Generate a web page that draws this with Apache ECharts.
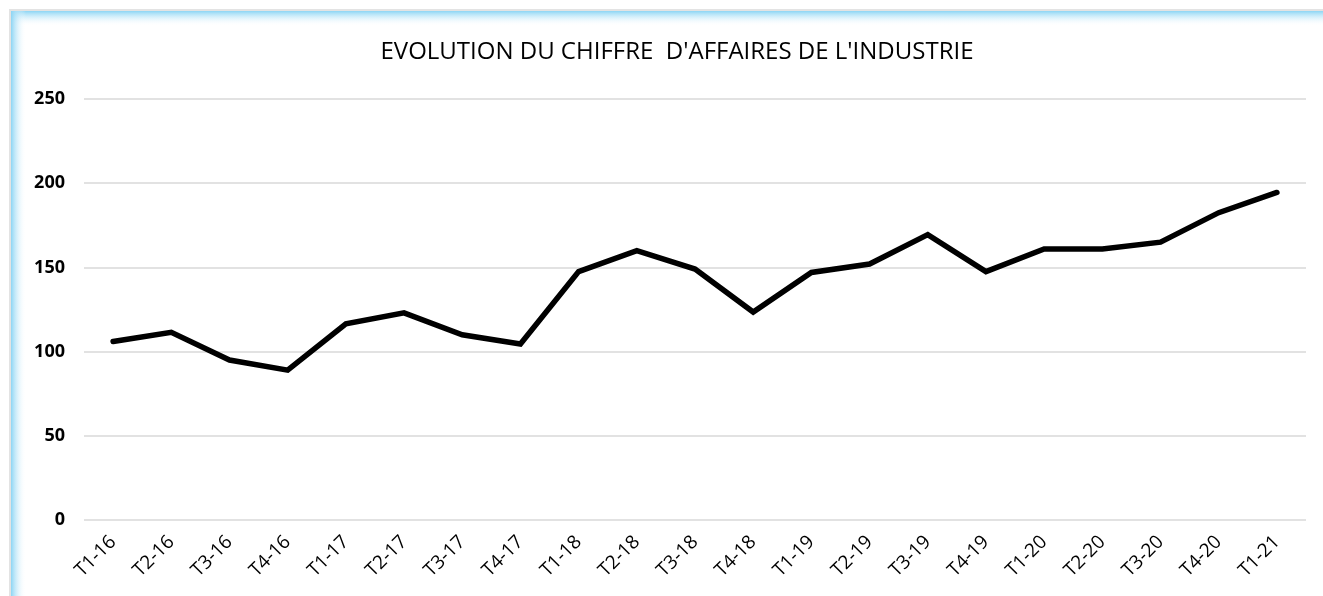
<!DOCTYPE html>
<html>
<head>
<meta charset="utf-8">
<script src="https://cdn.jsdelivr.net/npm/echarts@6/dist/echarts.min.js"></script>
<style>
  html, body { margin: 0; padding: 0; background: #fff; }
  #chart { width: 1323px; height: 596px; }
</style>
</head>
<body>
<div id="chart"></div>
<script>
// trimestres
const categories = ['T1-16', 'T2-16', 'T3-16', 'T4-16', 'T1-17', 'T2-17', 'T3-17', 'T4-17',
  'T1-18', 'T2-18', 'T3-18', 'T4-18', 'T1-19', 'T2-19', 'T3-19', 'T4-19',
  'T1-20', 'T2-20', 'T3-20', 'T4-20', 'T1-21'];
// chiffre d'affaires
const valeurs = [106, 111.5, 95, 89, 116.5, 123, 110, 104.5,
  147.5, 160, 149, 123.5, 147, 152, 169.5, 147.5,
  161, 161, 165, 182.5, 194.5];
const yTicks = { min: 0, max: 250, interval: 50 };

const font = 'Open Sans';

let options = {
  animation: false,
  backgroundColor: '#fff',
  title: {
    text: "EVOLUTION DU CHIFFRE  D'AFFAIRES DE L'INDUSTRIE",
    left: 672,
    top: 35,
    textAlign: 'center',
    textStyle: {
      fontFamily: font,
      fontSize: 24,
      fontWeight: 'normal',
      color: '#000'
    }
  },
  graphic: [
    // cadre du graphique (bordure bleutée)
    { type: 'rect', shape: { x: 9, y: 9, width: 1323, height: 2 }, style: { fill: '#e3e3e3' }, silent: true },
    { type: 'rect', shape: { x: 9, y: 9, width: 2, height: 600 }, style: { fill: '#e3e3e3' }, silent: true },
    {
      type: 'rect', shape: { x: 11, y: 11, width: 1323, height: 15 }, silent: true,
      style: { fill: new echarts.graphic.LinearGradient(0, 0, 0, 1, [
        { offset: 0, color: '#8dd5f4' }, { offset: 1, color: 'rgba(255,255,255,0)' }]) }
    },
    {
      type: 'rect', shape: { x: 11, y: 11, width: 15, height: 600 }, silent: true,
      style: { fill: new echarts.graphic.LinearGradient(0, 0, 1, 0, [
        { offset: 0, color: '#8dd5f4' }, { offset: 1, color: 'rgba(255,255,255,0)' }]) }
    }
  ],
  grid: {
    left: 84,
    right: 17,
    top: 99,
    bottom: 76
  },
  xAxis: {
    type: 'category',
    boundaryGap: true,
    data: categories,
    axisLine: { show: false },
    axisTick: { show: false },
    axisLabel: {
      rotate: 45,
      margin: 19,
      interval: 0,
      fontFamily: font,
      fontSize: 19,
      color: '#000'
    }
  },
  yAxis: {
    type: 'value',
    min: yTicks.min,
    max: yTicks.max,
    interval: yTicks.interval,
    axisLine: { show: false },
    axisTick: { show: false },
    axisLabel: {
      margin: 19,
      fontFamily: font,
      fontSize: 18,
      fontWeight: 'bold',
      color: '#000'
    },
    splitLine: {
      lineStyle: { color: '#d9d9d9', width: 1.5 }
    }
  },
  series: [
    {
      name: "Chiffre d'affaires",
      type: 'line',
      data: valeurs,
      symbol: 'none',
      lineStyle: {
        width: 5.5,
        color: '#000',
        cap: 'round',
        join: 'miter'
      }
    }
  ]
};

let myChart = echarts.init(document.getElementById('chart'));
myChart.setOption(options);
</script>
</body>
</html>
